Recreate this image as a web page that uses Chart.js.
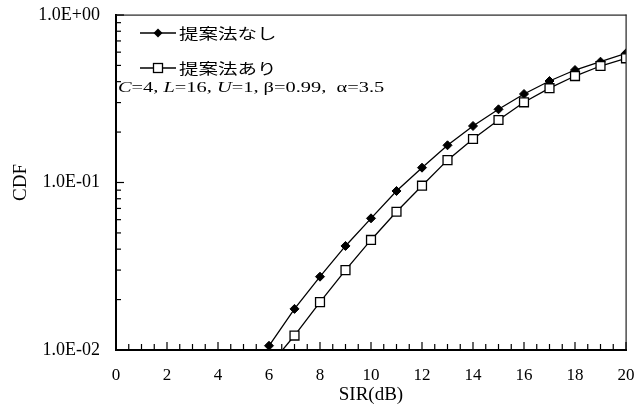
<!DOCTYPE html>
<html lang="ja">

<head>
    <meta charset="UTF-8">
    <title>CDF</title>
    <style>
        body {
            margin: 0;
            background: #fff;
        }

        .wrap {
            width: 639px;
            height: 409px;
        }
    </style>
</head>

<body>
    <div class="wrap">
        <canvas id="cdf-chart" width="639" height="409"></canvas>
    </div>

    <script src="https://cdn.jsdelivr.net/npm/chart.js"></script>
    <script>
        // SIR(dB) values and CDF readings
        var sirValues = [6, 7, 8, 9, 10, 11, 12, 13, 14, 15, 16, 17, 18, 19, 20];
        var cdfWithout = [0.0106, 0.0176, 0.0274, 0.0418, 0.0611, 0.0890, 0.1226, 0.1668, 0.2175, 0.2735, 0.3376, 0.4036, 0.4694, 0.5263, 0.5904];
        var cdfWith = [0.0080, 0.0122, 0.0193, 0.0300, 0.0454, 0.0669, 0.0957, 0.1360, 0.1818, 0.2361, 0.3012, 0.3656, 0.4322, 0.4960, 0.5514];
        var seriesNames = ["提案法なし", "提案法あり"];
        var xTickStep = 0.5;
        var xLabelStep = 2;

        var serif = "'Liberation Serif', 'Times New Roman', serif";
        Chart.defaults.color = '#000';

        function toPoints(values) {
            return sirValues.map(function (x, i) {
                return { x: x, y: values[i] };
            });
        }

        function isDecade(v) {
            var l = Math.log10(v);
            return Math.abs(l - Math.round(l)) < 1e-9;
        }

        function sciLabel(v) {
            var e = Math.round(Math.log10(v));
            var s = e < 0 ? '-' : '+';
            var a = Math.abs(e);
            return '1.0E' + s + (a < 10 ? '0' + a : a);
        }

        // inward ticks, top/right frame, legend and parameter text
        var framePlugin = {
            id: 'frame',
            afterDraw: function (chart) {
                var ctx = chart.ctx;
                var area = chart.chartArea;
                var xs = chart.scales.x;
                var ys = chart.scales.y;
                ctx.save();

                // top and right edges of the plot box
                ctx.fillStyle = '#222';
                ctx.fillRect(area.left, area.top - 0.5, area.right - area.left + 0.5, 1.2);
                ctx.fillRect(area.right - 0.5, area.top - 0.5, 1.2, area.bottom - area.top);

                ctx.strokeStyle = '#000';
                ctx.lineWidth = 1.2;
                var yTickVals = [];
                for (var d = ys.min; d < ys.max * 0.999; d *= 10) {
                    for (var k = 1; k <= 9; k++) yTickVals.push(d * k);
                }
                yTickVals.push(ys.max);
                yTickVals.forEach(function (v) {
                    var py = ys.getPixelForValue(v);
                    var len = isDecade(v) ? 8 : 5;
                    ctx.beginPath();
                    ctx.moveTo(area.left, py);
                    ctx.lineTo(area.left + len, py);
                    ctx.stroke();
                });
                xs.ticks.forEach(function (t) {
                    var px = xs.getPixelForValue(t.value);
                    var len = (t.value % xLabelStep === 0) ? 8 : 6;
                    ctx.beginPath();
                    ctx.moveTo(px, area.bottom);
                    ctx.lineTo(px, area.bottom - len);
                    ctx.stroke();
                });

                // legend
                var lx = area.left + 24;
                var rows = [area.top + 18, area.top + 53];
                rows.forEach(function (ry, i) {
                    ctx.strokeStyle = '#000';
                    ctx.lineWidth = 1.3;
                    ctx.beginPath();
                    ctx.moveTo(lx, ry);
                    ctx.lineTo(lx + 36, ry);
                    ctx.stroke();
                    var cx = lx + 18;
                    if (i === 0) {
                        ctx.fillStyle = '#000';
                        ctx.beginPath();
                        ctx.moveTo(cx - 4.5, ry);
                        ctx.lineTo(cx, ry - 4.5);
                        ctx.lineTo(cx + 4.5, ry);
                        ctx.lineTo(cx, ry + 4.5);
                        ctx.closePath();
                        ctx.fill();
                    } else {
                        ctx.fillStyle = '#fff';
                        ctx.fillRect(cx - 4.5, ry - 4.5, 9, 9);
                        ctx.strokeRect(cx - 4.5, ry - 4.5, 9, 9);
                    }
                    ctx.save();
                    ctx.translate(lx + 39, ry);
                    ctx.scale(1.3, 1);
                    ctx.fillStyle = '#000';
                    ctx.textBaseline = 'middle';
                    ctx.font = "15px 'Noto Sans CJK JP', sans-serif";
                    ctx.fillText(seriesNames[i], 0, 0);
                    ctx.restore();
                });

                // parameter line
                var parts = [['C', true], ['=4, ', false], ['L', true], ['=16, ', false], ['U', true], ['=1, β=0.99,  α=3.5', false]];
                ctx.save();
                ctx.translate(area.left + 2, area.top + 73);
                ctx.scale(1.36, 1);
                ctx.fillStyle = '#000';
                ctx.textBaseline = 'middle';
                var px = 0;
                parts.forEach(function (p) {
                    ctx.font = (p[1] ? 'italic ' : '') + '15px ' + serif;
                    ctx.fillText(p[0], px, 0);
                    px += ctx.measureText(p[0]).width;
                });
                ctx.restore();

                ctx.restore();
            }
        };

        var ctx = document.getElementById("cdf-chart").getContext("2d");
        var cdfChart = new Chart(ctx, {
            type: 'line',
            data: {
                datasets: [{
                    label: seriesNames[0],
                    data: toPoints(cdfWithout),
                    borderColor: '#000',
                    borderWidth: 1.3,
                    backgroundColor: '#000',
                    pointStyle: 'rectRot',
                    pointRadius: 4.5,
                    pointBorderWidth: 1,
                    pointBackgroundColor: '#000',
                    pointBorderColor: '#000',
                    tension: 0,
                    order: 1
                }, {
                    label: seriesNames[1],
                    data: toPoints(cdfWith),
                    borderColor: '#000',
                    borderWidth: 1.3,
                    backgroundColor: '#fff',
                    pointStyle: 'rect',
                    pointRadius: 6.3,
                    pointBorderWidth: 1.3,
                    pointBackgroundColor: '#fff',
                    pointBorderColor: '#000',
                    tension: 0,
                    order: 0
                }]
            },
            options: {
                responsive: false,
                animation: false,
                layout: {
                    padding: { left: 0, right: 13, top: 15, bottom: 0 }
                },
                plugins: {
                    legend: { display: false },
                    tooltip: { enabled: false }
                },
                scales: {
                    x: {
                        type: 'linear',
                        min: 0,
                        max: 20,
                        afterFit: function (scale) {
                            scale.height = 59;
                            scale.paddingLeft = 0;
                            scale.paddingRight = 0;
                        },
                        afterBuildTicks: function (scale) {
                            var t = [];
                            for (var v = scale.min; v <= scale.max + 1e-9; v += xTickStep) t.push({ value: v });
                            scale.ticks = t;
                        },
                        grid: { display: false },
                        border: { display: true, color: '#000', width: 2 },
                        ticks: {
                            autoSkip: false,
                            maxRotation: 0,
                            padding: 7,
                            font: { family: serif, size: 17 },
                            callback: function (v) { return v % xLabelStep === 0 ? String(v) : ''; }
                        },
                        title: {
                            display: true,
                            text: 'SIR(dB)',
                            font: { family: serif, size: 19 },
                            padding: { top: 0, bottom: 3 }
                        }
                    },
                    y: {
                        type: 'logarithmic',
                        min: 0.01,
                        max: 1,
                        afterFit: function (scale) {
                            scale.width = 116;
                            scale.paddingTop = 0;
                            scale.paddingBottom = 0;
                        },
                        grid: { display: true, drawOnChartArea: false, drawTicks: true, tickLength: 11, tickColor: 'rgba(0,0,0,0)' },
                        border: { display: true, color: '#000', width: 2 },
                        ticks: {
                            autoSkip: false,
                            padding: 5,
                            font: { family: serif, size: 18 },
                            callback: function (v) { return isDecade(v) ? sciLabel(v) : ''; }
                        },
                        title: {
                            display: true,
                            text: 'CDF',
                            font: { family: serif, size: 19 },
                            padding: { top: 10, bottom: 0 }
                        }
                    }
                }
            },
            plugins: [framePlugin]
        });
    </script>
</body>

</html>
